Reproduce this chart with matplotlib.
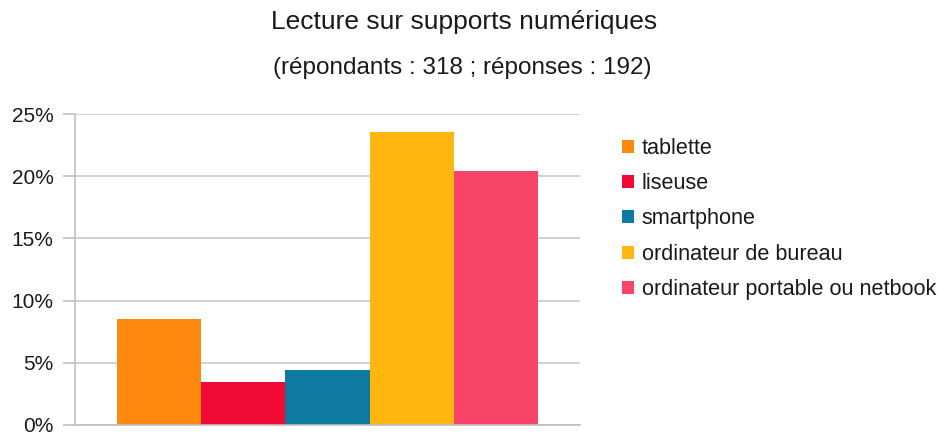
import matplotlib.pyplot as plt
from matplotlib.ticker import FuncFormatter

# counts out of 318 respondents
categories = ["tablette", "liseuse", "smartphone", "ordinateur de bureau",
              "ordinateur portable ou netbook"]
values = [8.49, 3.46, 4.40, 23.58, 20.44]
colors = ["#ff880e", "#f00a36", "#0e7aa1", "#ffb60e", "#f74467"]
yticks = [0, 5, 10, 15, 20, 25]

plt.rcParams['font.family'] = ['Liberation Sans', 'DejaVu Sans']

fig = plt.figure(figsize=(9.38, 4.33), dpi=100)
ax = fig.add_axes([75 / 938, 8 / 433, 505 / 938, 311 / 433])

w = 1.0
for i, (cat, val, col) in enumerate(zip(categories, values, colors)):
    ax.bar((i - 2) * w, val, width=w, color=col, label=cat, zorder=2)

ax.set_xlim(-2.995, 2.995)
ax.set_ylim(0, 25)
ax.set_yticks(yticks)
ax.yaxis.set_major_formatter(FuncFormatter(lambda v, p: "%d%%" % v))
ax.set_xticks([])
ax.grid(axis='y', color='#c8c8c8', linewidth=1.2, zorder=0)
for s in ['top', 'right']:
    ax.spines[s].set_visible(False)
for s in ['left', 'bottom']:
    ax.spines[s].set_color('#c0c0c0')
    ax.spines[s].set_linewidth(1.2)
ax.tick_params(axis='y', length=8.5, width=1.2, color='#c0c0c0', pad=7,
               labelsize=15, labelcolor='#1a1a1a')

fig.text(464 / 938, 1 - 22 / 433, "Lecture sur supports numériques",
         ha='center', va='center', fontsize=19, color='#1a1a1a')
fig.text(462 / 938, 1 - 68 / 433, "(répondants : 318 ; réponses : 192)",
         ha='center', va='center', fontsize=17.5, color='#1a1a1a')

fig.legend(loc='center left', bbox_to_anchor=(622 / 938, 1 - 219 / 433),
           frameon=False, fontsize=15.6, handlelength=0.55, handleheight=0.55,
           handletextpad=0.37, labelspacing=0.66, borderaxespad=0,
           borderpad=0, labelcolor='#1a1a1a')

fig.savefig("out.png", dpi=100)
